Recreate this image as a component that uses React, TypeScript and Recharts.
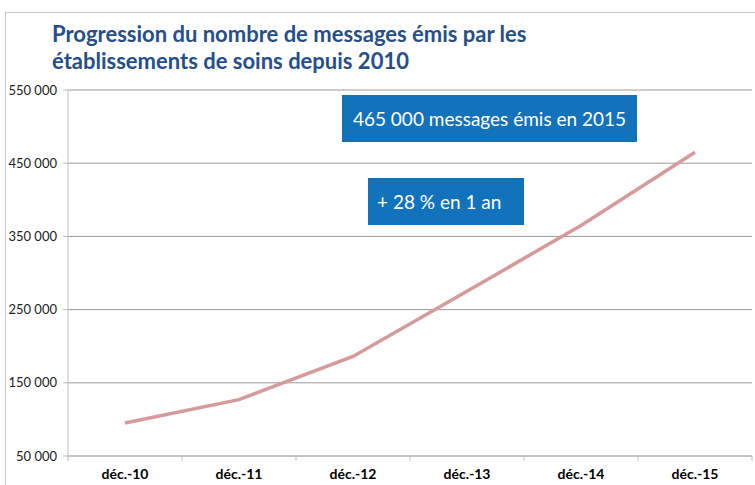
import { LineChart, Line, XAxis, YAxis, CartesianGrid } from "recharts"

const months = ["déc.-10", "déc.-11", "déc.-12", "déc.-13", "déc.-14", "déc.-15"]
const messages = [95000, 127000, 186000, 275000, 365000, 465000]
const yTicks = [50000, 150000, 250000, 350000, 450000, 550000]

const titleLines = [
  "Progression du nombre de messages émis par les",
  "établissements de soins depuis 2010",
]
const noteTotal = "465 000 messages émis en 2015"
const noteGrowth = "+ 28 % en 1 an"

const data = months.map((m, i) => ({ month: m, value: messages[i] }))

const fmt = (v: number) => String(v).replace(/\B(?=(\d{3})+(?!\d))/g, " ")

const font = "Lato, 'Open Sans', sans-serif"
const X_MARGIN = 13

// label + excel-style tick marks on the category boundaries
const MonthTick = (props: any) => {
  const { x, y, payload, index, visibleTicksCount } = props
  const half = payload?.offset ?? 0
  const axisY = y - X_MARGIN
  return (
    <g>
      <line x1={x - half} x2={x - half} y1={axisY} y2={axisY + 5} stroke="#bdbdbd" />
      {index === visibleTicksCount - 1 && (
        <line x1={x + half} x2={x + half} y1={axisY} y2={axisY + 5} stroke="#bdbdbd" />
      )}
      <text x={x} y={y} dy="0.71em" textAnchor="middle" fill="#000" fontSize={14} fontWeight={700} fontFamily={font}>
        {payload.value}
      </text>
    </g>
  )
}

export default function App() {
  return (
    <div style={{ position: "absolute", left: 0, top: 0, width: 755, height: 485, background: "#fff", fontFamily: font, overflow: "hidden" }}>
      <div style={{ position: "absolute", left: 5, top: 12, width: 760, height: 500, border: "1px solid #c8c8c8" }} />
      <div style={{ position: "absolute", left: 52, top: 20, color: "#244f8a", fontWeight: 700, fontSize: 22, lineHeight: "27px" }}>
        {titleLines.map((t) => <div key={t}>{t}</div>)}
      </div>
      <LineChart width={755} height={485} data={data} margin={{ top: 90, right: 3, bottom: 1, left: 0 }}>
        <CartesianGrid horizontal={true} vertical={false} stroke="#9a9a9a" />
        <XAxis
          dataKey="month"
          scale="band"
          height={28}
          axisLine={{ stroke: "#bdbdbd" }}
          tickLine={false}
          tickSize={0}
          tickMargin={X_MARGIN}
          tick={<MonthTick />}
          interval={0}
        />
        <YAxis
          domain={[50000, 550000]}
          ticks={yTicks}
          width={68}
          tickFormatter={fmt}
          axisLine={{ stroke: "#bdbdbd" }}
          tickLine={{ stroke: "#bdbdbd" }}
          tickSize={5}
          tickMargin={6}
          tick={{ fill: "#222", fontSize: 13, fontFamily: font }}
        />
        <Line
          type="linear"
          dataKey="value"
          stroke="#d79a9a"
          strokeWidth={3.5}
          dot={false}
          isAnimationActive={false}
        />
      </LineChart>
      <div style={{ position: "absolute", left: 342, top: 95, width: 295, height: 47, background: "#1272bb", color: "#fff", fontSize: 19, display: "flex", alignItems: "center", justifyContent: "center" }}>
        {noteTotal}
      </div>
      <div style={{ position: "absolute", left: 368, top: 178, width: 156, height: 47, background: "#1272bb", color: "#fff", fontSize: 19, display: "flex", alignItems: "center", paddingLeft: 9, boxSizing: "border-box" }}>
        {noteGrowth}
      </div>
    </div>
  )
}
